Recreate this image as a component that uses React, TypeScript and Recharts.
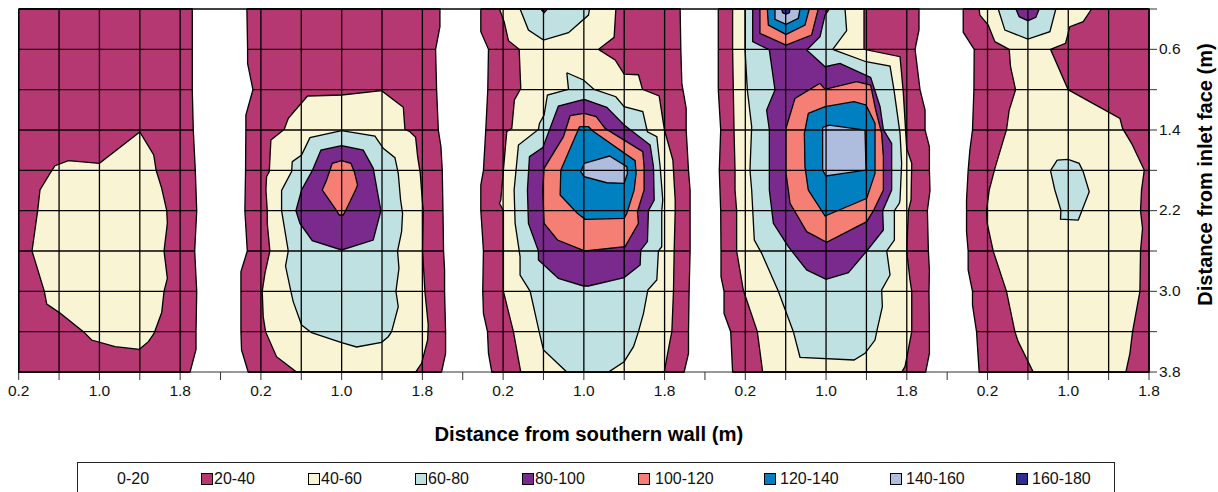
import React from 'react';
import { Scatter, ScatterChart, XAxis, YAxis } from 'recharts';

type Pt = [number, number];

const bandLabels = ['0-20', '20-40', '40-60', '60-80', '80-100', '100-120', '120-140', '140-160', '160-180'];
const bandColors = ['#ffffff', '#b53872', '#f9f4d3', '#bfe1e1', '#7a2a8c', '#f57f74', '#0080c0', '#aebcdd', '#2e2e8e'];
const legendLefts = [117, 201, 308, 415, 522, 638, 764, 890, 1016];
const legendGaps = [0, 1, 1, 1, 1, 5, 4, 4, 4];

const xLabels = ['0.2', '', '1.0', '', '1.8', ''];
const yTicks = [0.2, 0.6, 1.0, 1.4, 1.8, 2.2, 2.6, 3.0, 3.4, 3.8];
const yLabels = ['', '0.6', '', '1.4', '', '2.2', '', '3.0', '', '3.8'];
const gridX = [0.2, 0.6, 1.0, 1.4, 1.8];
const panelStep = 2.4;

// outer edges of each test section (left side, right side), metres
const p1Left: Pt[] = [[0.2, 0.2], [0.2, 3.8]];
const p1Right: Pt[] = [[1.92, 0.2], [1.92, 1.0], [1.93, 1.4], [1.95, 1.8], [1.964, 2.2], [1.944, 2.6], [1.964, 3.0], [1.957, 3.4], [1.957, 3.575], [1.898, 3.8]];
const p2Left: Pt[] = [[0.061, 0.2], [0.068, 0.6], [0.068, 0.739], [0.121, 1.0], [0.051, 1.251], [0.051, 1.4], [0.048, 1.8], [0.041, 2.2], [0.065, 2.6], [0.002, 2.805], [0.002, 3.4], [0.008, 3.582], [0.074, 3.8]];
const p2Right: Pt[] = [[1.974, 0.2], [1.974, 0.375], [1.931, 0.6], [1.941, 1.0], [1.958, 1.4], [1.984, 1.566], [1.997, 1.8], [2.004, 2.2], [2.01, 2.6], [2.02, 2.788], [2.02, 3.0], [2.03, 3.4], [2.03, 3.615], [1.99, 3.8]];
const p3Left: Pt[] = [[-0.021, 0.2], [-0.021, 0.425], [0.055, 0.6], [0.048, 1.0], [0.028, 1.4], [0.005, 1.8], [-0.021, 1.946], [-0.021, 2.2], [-0.005, 2.441], [0.005, 2.6], [-0.002, 3.0], [0.005, 3.218], [0.045, 3.4], [0.055, 3.615], [0.088, 3.8]];
const p3Right: Pt[] = [[1.954, 0.2], [1.961, 0.6], [1.971, 0.937], [2.014, 1.185], [2.014, 1.4], [2.037, 1.8], [2.053, 2.0], [2.053, 2.6], [2.043, 3.0], [2.037, 3.4], [2.037, 3.615], [1.994, 3.8]];
const p4Left: Pt[] = [[-0.068, 0.2], [-0.068, 1.0], [-0.044, 1.4], [-0.058, 1.8], [-0.044, 2.2], [-0.041, 2.6], [-0.041, 2.855], [-0.011, 3.0], [-0.011, 3.218], [0.055, 3.4], [0.074, 3.8]];
const p4Right: Pt[] = [[1.921, 0.2], [1.921, 0.408], [1.882, 0.6], [1.931, 1.0], [1.981, 1.202], [1.981, 1.4], [2.024, 1.566], [2.024, 1.8], [2.03, 2.0], [2.004, 2.2], [2.014, 2.6], [2.024, 2.788], [2.02, 3.0], [2.024, 3.4], [2.024, 3.615], [1.987, 3.8]];
const p5Left: Pt[] = [[-0.041, 0.2], [-0.041, 0.43], [0.068, 0.6], [0.065, 1.0], [0.051, 1.4], [0.025, 1.599], [0.008, 1.8], [-0.008, 2.094], [-0.008, 2.408], [0.008, 2.6], [0.008, 2.788], [0.051, 3.0], [0.051, 3.136], [0.091, 3.4], [0.117, 3.8]];
const p5Right: Pt[] = [[1.8, 0.2], [1.8, 3.8]];

// contour bands, metres from wall / inlet face
const p1Band40: Pt[] = [[1.4, 1.42], [1.538, 1.648], [1.561, 1.797], [1.617, 1.979], [1.667, 2.2], [1.673, 2.326], [1.64, 2.6], [1.673, 2.871], [1.64, 3.0], [1.617, 3.21], [1.541, 3.417], [1.485, 3.499], [1.396, 3.575], [1.155, 3.549], [0.923, 3.483], [0.841, 3.4], [0.603, 3.211], [0.478, 3.126], [0.454, 3.0], [0.332, 2.6], [0.388, 2.2], [0.411, 1.995], [0.51, 1.83], [0.56, 1.754], [0.692, 1.704], [1.0, 1.731]];

const p2Band40: Pt[] = [[0.662, 1.063], [1.0, 1.053], [1.396, 1.01], [1.611, 1.175], [1.627, 1.394], [1.677, 1.417], [1.733, 1.473], [1.753, 1.665], [1.779, 1.83], [1.799, 2.094], [1.809, 2.2], [1.802, 2.6], [1.825, 3.0], [1.858, 3.334], [1.852, 3.483], [1.792, 3.714], [1.733, 3.8], [0.553, 3.8], [0.355, 3.648], [0.246, 3.4], [0.223, 3.251], [0.213, 3.0], [0.24, 2.821], [0.289, 2.6], [0.263, 2.326], [0.263, 2.2], [0.25, 1.995], [0.256, 1.863], [0.283, 1.813], [0.299, 1.5], [0.431, 1.394], [0.471, 1.285], [0.57, 1.169]];
const p2Band60: Pt[] = [[1.0, 1.407], [1.33, 1.46], [1.412, 1.582], [1.528, 1.675], [1.561, 1.83], [1.584, 2.094], [1.604, 2.226], [1.594, 2.408], [1.554, 2.6], [1.568, 2.772], [1.538, 3.0], [1.561, 3.152], [1.495, 3.4], [1.462, 3.45], [1.396, 3.506], [1.148, 3.552], [1.0, 3.509], [0.702, 3.41], [0.603, 3.334], [0.52, 3.102], [0.497, 3.0], [0.444, 2.749], [0.471, 2.6], [0.405, 2.2], [0.405, 2.0], [0.504, 1.813], [0.511, 1.714], [0.603, 1.648], [0.686, 1.476]];
const p2Band80: Pt[] = [[1.0, 1.556], [1.214, 1.599], [1.313, 1.78], [1.369, 2.094], [1.389, 2.2], [1.313, 2.491], [1.0, 2.59], [0.709, 2.497], [0.587, 2.326], [0.547, 2.2], [0.603, 1.995], [0.712, 1.797], [0.795, 1.599]];
const p2Band100: Pt[] = [[1.0, 1.704], [1.092, 1.731], [1.125, 1.813], [1.158, 1.946], [1.138, 1.995], [1.039, 2.2], [1.016, 2.243], [0.976, 2.243], [0.95, 2.2], [0.808, 1.995], [0.851, 1.896], [0.907, 1.731]];

const p3Band40: Pt[] = [[0.164, 0.2], [1.317, 0.2], [1.3, 0.481], [1.145, 0.6], [1.31, 0.706], [1.399, 0.845], [1.541, 0.852], [1.581, 0.997], [1.746, 1.063], [1.799, 1.4], [1.882, 1.698], [1.905, 2.094], [1.905, 2.2], [1.895, 2.6], [1.888, 3.0], [1.872, 3.4], [1.855, 3.483], [1.796, 3.8], [0.375, 3.8], [0.302, 3.4], [0.203, 3.0], [0.203, 2.2], [0.164, 2.127], [0.177, 2.094], [0.203, 1.797], [0.236, 1.417], [0.286, 1.384], [0.312, 1.103], [0.375, 0.987], [0.359, 0.6], [0.253, 0.514], [0.21, 0.326]];
const p3TopBand60: Pt[] = [[0.368, 0.2], [1.056, 0.2], [1.046, 0.26], [0.848, 0.435], [0.6, 0.508], [0.451, 0.409]];
const p3TopBand80: Pt[] = [[0.573, 0.2], [0.639, 0.2], [0.606, 0.237]];
const p3Band60: Pt[] = [[0.831, 0.832], [0.996, 0.904], [1.102, 0.997], [1.317, 1.07], [1.399, 1.169], [1.584, 1.218], [1.63, 1.417], [1.723, 1.466], [1.756, 1.764], [1.782, 2.094], [1.772, 2.2], [1.772, 2.557], [1.739, 2.6], [1.723, 2.888], [1.634, 2.987], [1.591, 3.218], [1.541, 3.4], [1.492, 3.549], [1.399, 3.698], [1.244, 3.8], [0.831, 3.8], [0.6, 3.582], [0.557, 3.4], [0.468, 3.0], [0.368, 2.838], [0.368, 2.656], [0.319, 2.326], [0.309, 1.995], [0.352, 1.549], [0.55, 1.394], [0.56, 1.334], [0.606, 1.252], [0.639, 1.053], [0.848, 0.997]];
const p3Band80: Pt[] = [[1.003, 1.096], [1.227, 1.175], [1.399, 1.351], [1.657, 1.549], [1.69, 1.764], [1.697, 2.094], [1.64, 2.2], [1.63, 2.507], [1.564, 2.59], [1.558, 2.739], [1.399, 2.864], [1.046, 2.947], [0.996, 2.947], [0.748, 2.871], [0.55, 2.689], [0.55, 2.6], [0.451, 2.326], [0.441, 1.995], [0.461, 1.665], [0.593, 1.575], [0.748, 1.162]];
const p3Band100: Pt[] = [[1.003, 1.235], [1.122, 1.268], [1.211, 1.384], [1.584, 1.615], [1.597, 1.764], [1.597, 1.995], [1.531, 2.21], [1.541, 2.326], [1.409, 2.557], [1.013, 2.6], [0.739, 2.491], [0.606, 2.326], [0.593, 1.995], [0.606, 1.78], [0.798, 1.466], [0.864, 1.258]];
const p3Band120: Pt[] = [[0.957, 1.367], [1.046, 1.367], [1.089, 1.41], [1.508, 1.704], [1.518, 1.83], [1.498, 1.995], [1.426, 2.226], [1.399, 2.276], [1.013, 2.286], [0.93, 2.22], [0.765, 2.045], [0.772, 1.797]];
const p3Band140: Pt[] = [[1.003, 1.731], [1.254, 1.658], [1.426, 1.764], [1.432, 1.83], [1.399, 1.929], [1.227, 1.923], [1.003, 1.863], [0.97, 1.813]];

const p4Band40: Pt[] = [[0.074, 0.2], [1.376, 0.2], [1.376, 0.6], [1.733, 0.673], [1.766, 1.037], [1.799, 1.582], [1.849, 1.731], [1.842, 2.094], [1.816, 2.2], [1.799, 2.6], [1.832, 2.888], [1.849, 3.0], [1.849, 3.4], [1.782, 3.747], [1.749, 3.8], [0.372, 3.8], [0.319, 3.4], [0.18, 2.987], [0.114, 2.6], [0.114, 2.2], [0.098, 1.995], [0.098, 1.797], [0.088, 1.397], [0.081, 1.003], [0.074, 0.6]];
const p4Band60: Pt[] = [[0.197, 0.2], [1.188, 0.2], [1.204, 0.415], [1.066, 0.6], [1.396, 0.723], [1.634, 0.766], [1.673, 1.003], [1.733, 1.433], [1.749, 1.731], [1.733, 2.094], [1.726, 2.127], [1.677, 2.2], [1.677, 2.491], [1.601, 2.6], [1.634, 2.838], [1.551, 2.987], [1.558, 3.152], [1.502, 3.4], [1.485, 3.483], [1.386, 3.615], [1.277, 3.681], [0.742, 3.654], [0.676, 3.4], [0.527, 3.0], [0.362, 2.623], [0.289, 2.491], [0.263, 1.995], [0.246, 1.797], [0.263, 1.367], [0.22, 1.003], [0.197, 0.6]];
const p4Band80: Pt[] = [[0.273, 0.2], [1.033, 0.2], [0.99, 0.26], [0.94, 0.475], [0.808, 0.607], [0.99, 0.772], [1.138, 0.739], [1.442, 0.878], [1.535, 1.169], [1.568, 1.397], [1.65, 1.532], [1.65, 1.995], [1.561, 2.2], [1.568, 2.392], [1.403, 2.6], [1.221, 2.815], [1.0, 2.881], [0.808, 2.788], [0.626, 2.557], [0.478, 2.326], [0.438, 1.995], [0.438, 1.4], [0.411, 1.202], [0.494, 1.003], [0.438, 0.607], [0.273, 0.524]];
const p4TopBand100: Pt[] = [[0.345, 0.2], [0.923, 0.2], [0.857, 0.458], [0.603, 0.557], [0.345, 0.442]];
const p4TopBand120: Pt[] = [[0.418, 0.2], [0.834, 0.2], [0.791, 0.359], [0.603, 0.452], [0.428, 0.359]];
const p4TopBand140: Pt[] = [[0.494, 0.2], [0.742, 0.2], [0.725, 0.293], [0.603, 0.352], [0.494, 0.303]];
const p4TopBand160: Pt[] = [[0.56, 0.2], [0.643, 0.2], [0.636, 0.237], [0.603, 0.25], [0.57, 0.237]];
const p4Band100: Pt[] = [[0.94, 0.937], [0.99, 0.997], [1.303, 0.921], [1.442, 0.954], [1.492, 1.202], [1.551, 1.433], [1.568, 1.665], [1.568, 1.995], [1.469, 2.2], [1.403, 2.309], [1.006, 2.514], [0.808, 2.408], [0.643, 2.127], [0.626, 1.995], [0.603, 1.83], [0.603, 1.384], [0.692, 1.086]];
const p4Band120: Pt[] = [[0.824, 1.235], [0.99, 1.169], [1.277, 1.119], [1.396, 1.152], [1.485, 1.334], [1.485, 1.83], [1.403, 2.078], [0.99, 2.253], [0.824, 1.995], [0.791, 1.764], [0.785, 1.433]];
const p4Band140: Pt[] = [[0.966, 1.374], [1.033, 1.351], [1.386, 1.4], [1.396, 1.797], [0.999, 1.856], [0.966, 1.797]];

const p5Band40: Pt[] = [[0.117, 0.2], [1.231, 0.2], [1.148, 0.326], [1.016, 0.375], [0.973, 0.541], [0.824, 0.6], [0.999, 1.0], [1.512, 1.285], [1.538, 1.384], [1.627, 1.532], [1.753, 1.797], [1.726, 1.995], [1.716, 2.2], [1.736, 2.375], [1.716, 2.6], [1.71, 3.0], [1.637, 3.4], [1.611, 3.615], [1.571, 3.8], [0.653, 3.8], [0.504, 3.499], [0.471, 3.4], [0.388, 3.0], [0.256, 2.6], [0.197, 2.326], [0.19, 2.2], [0.217, 1.995], [0.273, 1.78], [0.388, 1.397], [0.415, 1.202], [0.478, 1.0], [0.428, 0.772], [0.415, 0.6], [0.273, 0.524], [0.207, 0.359], [0.124, 0.26]];
const p5TopBand60: Pt[] = [[0.306, 0.2], [0.877, 0.2], [0.818, 0.425], [0.6, 0.498], [0.372, 0.409]];
const p5TopBand80: Pt[] = [[0.481, 0.2], [0.712, 0.2], [0.679, 0.283], [0.6, 0.316], [0.514, 0.276]];
const p5Island60: Pt[] = [[0.89, 1.698], [0.999, 1.691], [1.108, 1.731], [1.148, 1.813], [1.208, 2.012], [1.099, 2.293], [0.923, 2.283], [0.927, 2.193], [0.867, 1.995], [0.824, 1.804]];

// band index into bandColors, painted low to high
const panels: { left: Pt[]; right: Pt[]; bands: [number, Pt[]][] }[] = [
  { left: p1Left, right: p1Right, bands: [[2, p1Band40]] },
  { left: p2Left, right: p2Right, bands: [[2, p2Band40], [3, p2Band60], [4, p2Band80], [5, p2Band100]] },
  {
    left: p3Left,
    right: p3Right,
    bands: [[2, p3Band40], [3, p3TopBand60], [4, p3TopBand80], [3, p3Band60], [4, p3Band80], [5, p3Band100], [6, p3Band120], [7, p3Band140]],
  },
  {
    left: p4Left,
    right: p4Right,
    bands: [[2, p4Band40], [3, p4Band60], [4, p4Band80], [5, p4TopBand100], [6, p4TopBand120], [7, p4TopBand140], [8, p4TopBand160], [5, p4Band100], [6, p4Band120], [7, p4Band140]],
  },
  { left: p5Left, right: p5Right, bands: [[2, p5Band40], [3, p5TopBand60], [4, p5TopBand80], [3, p5Island60]] },
];

const round = (v: number) => Math.round(v * 1000) / 1000;
const xTicks = Array.from({ length: 29 }, (_, i) => round(0.2 + i * 0.4));
const font = 'Liberation Sans, Arial, sans-serif';

// x on a side edge at depth y
function edgeAt(edge: Pt[], y: number) {
  for (let i = 1; i < edge.length; i++) {
    const [x0, y0] = edge[i - 1];
    const [x1, y1] = edge[i];
    if (y <= y1) return x0 + ((x1 - x0) * (y - y0)) / (y1 - y0 || 1);
  }
  return edge[edge.length - 1][0];
}

const toRows = (pts: Pt[], panel: number) => pts.map(([x, y]) => ({ x: x + panel * panelStep, y }));
const closed = (pts: Pt[]) => [...pts, pts[0]];

function Poly(key: string, pts: Pt[], panel: number, fill: string) {
  return (
    <Scatter
      key={key}
      data={toRows(closed(pts), panel)}
      shape={() => null}
      line={{ fill, stroke: '#000', strokeWidth: 1.3 }}
      isAnimationActive={false}
    />
  );
}

function GridLine(key: string, pts: Pt[], panel: number) {
  return (
    <Scatter
      key={key}
      data={toRows(pts, panel)}
      shape={() => null}
      line={{ stroke: '#000', strokeWidth: 1.3 }}
      isAnimationActive={false}
    />
  );
}

export default function App() {
  return (
    <div style={{ position: 'absolute', left: 0, top: 0, width: 1218, height: 492, overflow: 'hidden', background: '#fff' }}>
      <ScatterChart width={1218} height={492} margin={{ top: 9, right: 9, bottom: 90, left: 18.7 }}>
        <XAxis
          type="number"
          dataKey="x"
          domain={[0.2, 11.4]}
          ticks={xTicks}
          interval={0}
          tickSize={8}
          tickMargin={5}
          height={30}
          stroke="#333"
          tick={{ fill: '#111', fontSize: 15.5, fontFamily: font }}
          tickFormatter={(v: number) => xLabels[xTicks.indexOf(v) % 6]}
          label={{
            value: 'Distance from southern wall (m)',
            position: 'bottom',
            offset: 25,
            dx: 5,
            fill: '#000',
            fontSize: 20.3,
            fontWeight: 'bold',
            fontFamily: font,
          }}
        />
        <YAxis
          type="number"
          dataKey="y"
          orientation="right"
          reversed
          domain={[0.2, 3.8]}
          ticks={yTicks}
          interval={0}
          tickSize={8}
          width={60}
          stroke="#333"
          tick={{ fill: '#111', fontSize: 15.5, fontFamily: font, dy: -1 }}
          tickFormatter={(v: number) => yLabels[yTicks.indexOf(v)]}
          label={{
            value: 'Distance from inlet face (m)',
            angle: -90,
            position: 'right',
            offset: -4,
            textAnchor: 'middle',
            dy: -16,
            fill: '#000',
            fontSize: 20,
            fontWeight: 'bold',
            fontFamily: font,
          }}
        />
        {GridLine('top', [[0.2, 0.2], [11.4, 0.2]], 0)}
        {panels.map((p, i) => Poly(`outline-${i}`, [...p.left, ...[...p.right].reverse()], i, bandColors[1]))}
        {panels.flatMap((p, i) => p.bands.map(([band, pts], j) => Poly(`band-${i}-${j}`, pts, i, bandColors[band])))}
        {panels.flatMap((p, i) => gridX.map((x) => GridLine(`v-${i}-${x}`, [[x, 0.2], [x, 3.8]], i)))}
        {panels.flatMap((p, i) => yTicks.map((y) => GridLine(`h-${i}-${y}`, [[edgeAt(p.left, y), y], [edgeAt(p.right, y), y]], i)))}
      </ScatterChart>
      <div style={{ position: 'absolute', left: 77, top: 462, width: 1038, height: 50, boxSizing: 'border-box', border: '1px solid #222' }} />
      {bandLabels.map((label, i) => (
        <div key={label} style={{ position: 'absolute', left: legendLefts[i], top: 470, height: 18, display: 'flex', alignItems: 'center', fontFamily: font, fontSize: 16, color: '#111', lineHeight: '18px' }}>
          {i > 0 && <span style={{ width: 10, height: 10, marginRight: legendGaps[i], background: bandColors[i], border: '1px solid #000', display: 'inline-block' }} />}
          {label}
        </div>
      ))}
    </div>
  );
}
